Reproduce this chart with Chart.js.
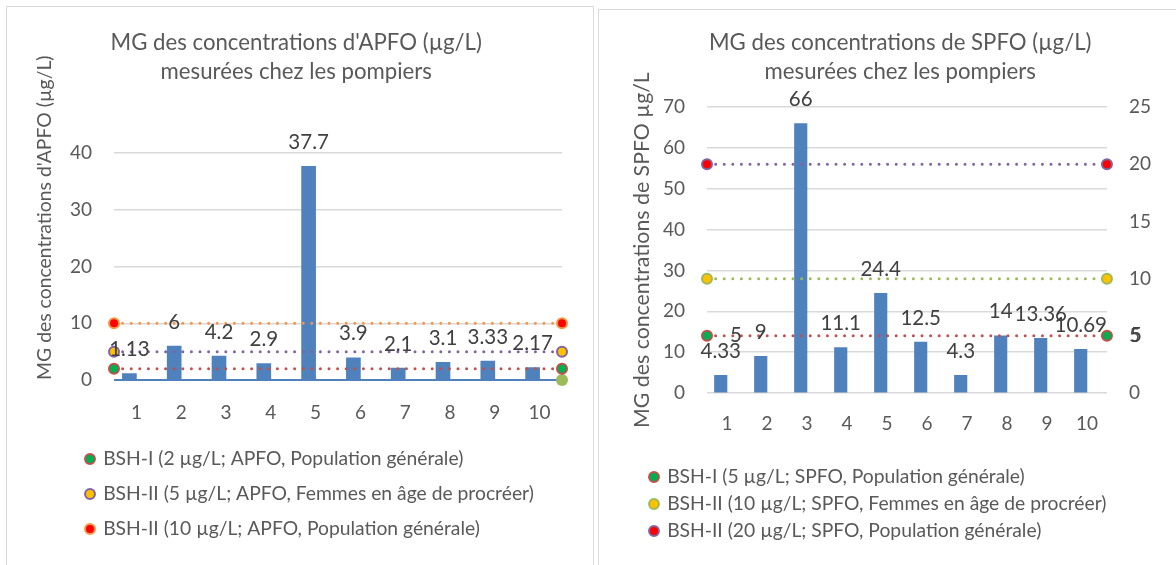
<!DOCTYPE html>
<html lang="fr">
<head>
<meta charset="utf-8">
<title>MG des concentrations d'APFO et de SPFO</title>
<script src="https://cdn.jsdelivr.net/npm/chart.js@4.4.1/dist/chart.umd.min.js"></script>
<style>
  html, body { margin: 0; padding: 0; background: #fff; overflow: hidden; }
  body { width: 1176px; height: 565px; position: relative; }
  .cadre { position: absolute; border: 1px solid #d9d9d9; box-sizing: border-box; }
  #cadreApfo { left: 6px; top: 6px; width: 588px; height: 580px; }
  #cadreSpfo { left: 598px; top: 9px; width: 600px; height: 580px; }
  canvas { position: absolute; top: 0; }
  #chartApfo { left: 0; }
  #chartSpfo { left: 596px; }
</style>
</head>
<body>
<div class="cadre" id="cadreApfo"></div>
<div class="cadre" id="cadreSpfo"></div>
<canvas id="chartApfo" width="595" height="565"></canvas>
<canvas id="chartSpfo" width="594" height="565"></canvas>
<script>
// ==================== DONNÉES ====================
const pompiers = ["1", "2", "3", "4", "5", "6", "7", "8", "9", "10"];
const apfoMG = [1.13, 6, 4.2, 2.9, 37.7, 3.9, 2.1, 3.1, 3.33, 2.17];
const spfoMG = [4.33, 9, 66, 11.1, 24.4, 12.5, 4.3, 14, 13.36, 10.69];

const apfoSeuils = [2, 5, 10];
const apfoSeuilsNoms = [
  "BSH-I (2 µg/L; APFO, Population générale)",
  "BSH-II (5 µg/L; APFO, Femmes en âge de procréer)",
  "BSH-II (10 µg/L; APFO, Population générale)"
];
const spfoSeuils = [5, 10, 20];
const spfoSeuilsNoms = [
  "BSH-I (5 µg/L; SPFO, Population générale)",
  "BSH-II (10 µg/L; SPFO, Femmes en âge de procréer)",
  "BSH-II (20 µg/L; SPFO, Population générale)"
];
const apfoZero = [0, 0];   // ligne bleue sur l'axe, point vert à droite

const apfoTicks = [0, 10, 20, 30, 40];
const spfoTicks = [0, 10, 20, 30, 40, 50, 60, 70];
const spfoTicksDroite = [0, 5, 10, 15, 20, 25];
const extremites = ["début", "fin"];

// ==================== STYLES ====================
const BLEU = "#4f81bd";
const GRIS = "#595959";
const GRILLE = "#d9d9d9";
const apfoCouleurs = [
  { line: "#c0504d", fill: "#00b050" },
  { line: "#8064a2", fill: "#ffc000" },
  { line: "#f79646", fill: "#ff0000" }
];
const spfoCouleurs = [
  { line: "#c0504d", fill: "#00b050" },
  { line: "#9bbb59", fill: "#ffc000" },
  { line: "#8064a2", fill: "#ff0000" }
];

Chart.defaults.font.family = "Lato";
Chart.defaults.color = GRIS;

// ==================== PLUGINS ====================
// étiquettes de valeur (au-dessus des barres, à droite des points)
const valueLabels = {
  id: "valueLabels",
  afterDatasetsDraw(chart) {
    const ctx = chart.ctx;
    ctx.save();
    ctx.font = "20.5px Lato";
    ctx.fillStyle = "#404040";
    ctx.textAlign = "center";
    ctx.textBaseline = "middle";
    chart.data.datasets.forEach((ds, i) => {
      const lab = ds.valueLabel;
      if (!lab) return;
      chart.getDatasetMeta(i).data.forEach((el, j) => {
        ctx.fillText(String(ds.data[j]), el.x + lab.dx, el.y + lab.dy);
      });
    });
    ctx.restore();
  }
};

// décale la légende vers la droite sans toucher au reste
const legendShift = {
  id: "legendShift",
  afterLayout(chart, args, opts) {
    const l = chart.legend;
    if (!l || !opts.dx) return;
    l.left += opts.dx;
    l.right += opts.dx;
  }
};

function seuilDataset(label, value, style, yAxisID, valueLabel) {
  return {
    type: "line",
    label: label,
    data: [value, value],
    xAxisID: "xSeuil",
    yAxisID: yAxisID,
    order: 0,
    clip: false,
    borderColor: style.line,
    borderWidth: 3,
    borderDash: [0, 8.6],
    borderCapStyle: "round",
    pointRadius: 5,
    pointBorderWidth: 2,
    pointBackgroundColor: style.fill,
    pointBorderColor: style.line,
    valueLabel: valueLabel
  };
}

function titleOpts(lines, top, bottom) {
  return {
    display: true,
    text: lines,
    color: GRIS,
    font: { size: 22.2, weight: "normal", lineHeight: 1.31 },
    padding: { top: top, bottom: bottom }
  };
}

function legendOpts(padding) {
  return {
    position: "bottom",
    align: "start",
    labels: {
      color: GRIS,
      font: { size: 19.3 },
      usePointStyle: true,
      boxWidth: 7,
      boxHeight: 7,
      padding: padding,
      filter: item => !!item.text
    }
  };
}

const tickFont = { size: 19 };

// ==================== APFO ====================
new Chart(document.getElementById("chartApfo"), {
  type: "bar",
  data: {
    labels: pompiers,
    datasets: [
      {
        label: "",
        data: apfoMG,
        backgroundColor: BLEU,
        barThickness: 14,
        order: 1,
        valueLabel: { dx: 0, dy: -24 }
      },
      ...apfoSeuils.map((v, i) => seuilDataset(apfoSeuilsNoms[i], v, apfoCouleurs[i], "y", null)),
      {
        type: "line",
        label: "",
        data: apfoZero,
        xAxisID: "xSeuil",
        order: 2,
        clip: false,
        borderColor: BLEU,
        borderWidth: 2,
        pointRadius: [0, 6],
        pointBorderWidth: 0,
        pointBackgroundColor: "#9bbb59"
      }
    ]
  },
  options: {
    responsive: false,
    animation: false,
    layout: { padding: { left: 30.5, right: 33, top: 0, bottom: 16.35 } },
    scales: {
      x: {
        offset: true,
        grid: { display: false, drawTicks: false },
        border: { display: false },
        ticks: { font: tickFont, color: GRIS, padding: 21.6 },
        afterFit: s => { s.height = 53.65; }
      },
      xSeuil: { type: "category", labels: extremites, offset: false, display: false },
      y: {
        min: apfoTicks[0],
        max: apfoTicks[apfoTicks.length - 1],
        ticks: { stepSize: apfoTicks[1] - apfoTicks[0], font: tickFont, color: GRIS, padding: 22 },
        grid: { color: GRILLE, lineWidth: 1.5, drawTicks: false },
        border: { display: false },
        title: {
          display: true,
          text: "MG des concentrations d'APFO (µg/L)",
          align: "start",
          color: GRIS,
          font: { size: 19.4 },
          padding: { top: 3, bottom: 0 }
        },
        afterFit: s => { s.width = 83.5; }
      }
    },
    plugins: {
      title: titleOpts(["MG des concentrations d'APFO (µg/L)", "mesurées chez les pompiers"], 28.5, 66.5),
      legend: legendOpts(15.7),
      legendShift: { dx: 40.3 },
      tooltip: { enabled: false }
    }
  },
  plugins: [valueLabels, legendShift]
});

// ==================== SPFO ====================
new Chart(document.getElementById("chartSpfo"), {
  type: "bar",
  data: {
    labels: pompiers,
    datasets: [
      {
        label: "",
        data: spfoMG,
        backgroundColor: BLEU,
        barThickness: 12.5,
        order: 1,
        valueLabel: { dx: 0, dy: -24 }
      },
      ...spfoSeuils.map((v, i) => seuilDataset(spfoSeuilsNoms[i], v, spfoCouleurs[i], "y2",
        i === 0 ? { dx: 29, dy: 0 } : null))
    ]
  },
  options: {
    responsive: false,
    animation: false,
    layout: { padding: { left: 31.5, right: 17, top: 0, bottom: 14.35 } },
    scales: {
      x: {
        offset: true,
        grid: { display: false, drawTicks: false },
        border: { display: false },
        ticks: { font: tickFont, color: GRIS, padding: 19.2 },
        afterFit: s => { s.height = 66.65; }
      },
      xSeuil: { type: "category", labels: extremites, offset: false, display: false },
      y: {
        min: spfoTicks[0],
        max: spfoTicks[spfoTicks.length - 1],
        ticks: { stepSize: spfoTicks[1] - spfoTicks[0], font: tickFont, color: GRIS, padding: 22 },
        grid: { color: GRILLE, lineWidth: 1.5, drawTicks: false },
        border: { display: false },
        title: {
          display: true,
          text: "MG des concentrations de SPFO µg/L",
          color: GRIS,
          font: { size: 21.3 },
          padding: { top: 1.7, bottom: 0 }
        },
        afterFit: s => { s.width = 79.5; }
      },
      y2: {
        position: "right",
        min: spfoTicksDroite[0],
        max: spfoTicksDroite[spfoTicksDroite.length - 1],
        ticks: { stepSize: spfoTicksDroite[1] - spfoTicksDroite[0], font: tickFont, color: GRIS, padding: 22 },
        grid: { drawOnChartArea: false, drawTicks: false },
        border: { display: false }
      }
    },
    plugins: {
      title: titleOpts(["MG des concentrations de SPFO (µg/L)", "mesurées chez les pompiers"], 28.5, 20.5),
      legend: legendOpts(7.7),
      legendShift: { dx: 15.3 },
      tooltip: { enabled: false }
    }
  },
  plugins: [valueLabels, legendShift]
});
</script>
</body>
</html>
